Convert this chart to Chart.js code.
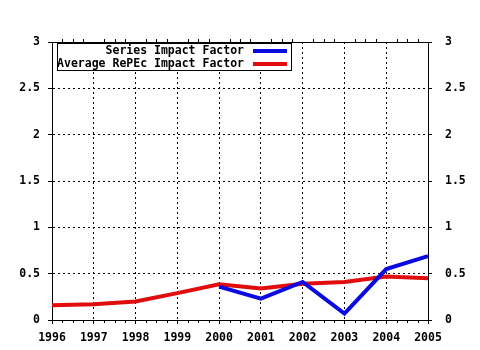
<!DOCTYPE html>
<html>
<head>
<meta charset="utf-8">
<script src="https://cdn.jsdelivr.net/npm/chart.js@4"></script>
<style>
    body { margin: 0; background: #fff; }
    #wrap { width: 480px; height: 350px; }
</style>
</head>
<body>
<div id="wrap"><canvas id="impactChart" width="480" height="350"></canvas></div>
<script>
// Chart data
const years = ['1996', '1997', '1998', '1999', '2000', '2001', '2002', '2003', '2004', '2005'];
const seriesImpact = [null, null, null, null, 0.36, 0.23, 0.41, 0.07, 0.55, 0.69];
const repecImpact = [0.16, 0.17, 0.20, 0.29, 0.385, 0.34, 0.39, 0.41, 0.47, 0.45];
const yTicks = [0, 0.5, 1, 1.5, 2, 2.5, 3];
const legendLabels = ['Series Impact Factor', 'Average RePEc Impact Factor'];

const BLUE = 'rgb(10, 10, 225)';
const RED = 'rgb(225, 12, 12)';
const FONT = { family: '"DejaVu Sans Mono", monospace', size: 11.5, weight: 'bold' };

// Top border, minor ticks and the legend box
const framePlugin = {
    id: 'frame',
    afterDraw(chart) {
        const ctx = chart.ctx;
        const area = chart.chartArea;
        const x = chart.scales.x;
        ctx.save();
        ctx.strokeStyle = '#000';
        ctx.lineWidth = 1;

        // solid top line
        ctx.beginPath();
        ctx.moveTo(area.left, area.top + 0.5);
        ctx.lineTo(area.right, area.top + 0.5);
        ctx.stroke();

        // minor ticks on bottom and top
        ctx.beginPath();
        for (let i = 0; i < years.length - 1; i++) {
            for (let k = 1; k < 4; k++) {
                const px = Math.round(x.getPixelForValue(i + k / 4)) + 0.5;
                ctx.moveTo(px, area.bottom);
                ctx.lineTo(px, area.bottom + 3);
                ctx.moveTo(px, area.top);
                ctx.lineTo(px, area.top - 3);
            }
        }
        ctx.stroke();

        // legend
        const box = { left: 57.5, top: 43.5, right: 291.5, bottom: 70.5 };
        ctx.fillStyle = '#fff';
        ctx.fillRect(box.left, box.top, box.right - box.left, box.bottom - box.top);
        ctx.strokeRect(box.left, box.top, box.right - box.left, box.bottom - box.top);

        ctx.font = 'bold 11.5px "DejaVu Sans Mono", monospace';
        ctx.textAlign = 'right';
        ctx.textBaseline = 'middle';
        ctx.fillStyle = '#000';
        const rows = [51, 64];
        const colors = [BLUE, RED];
        legendLabels.forEach((label, i) => {
            ctx.fillText(label, 244, rows[i]);
            ctx.strokeStyle = colors[i];
            ctx.lineWidth = 4;
            ctx.beginPath();
            ctx.moveTo(253, rows[i]);
            ctx.lineTo(287, rows[i]);
            ctx.stroke();
        });
        ctx.restore();
    }
};

const ctx = document.getElementById('impactChart').getContext('2d');

new Chart(ctx, {
    type: 'line',
    data: {
        labels: years,
        datasets: [
            {
                label: legendLabels[0],
                data: seriesImpact,
                borderColor: BLUE,
                borderWidth: 4,
                pointRadius: 0,
                tension: 0,
                spanGaps: false
            },
            {
                label: legendLabels[1],
                data: repecImpact,
                borderColor: RED,
                borderWidth: 4,
                pointRadius: 0,
                tension: 0
            }
        ]
    },
    options: {
        responsive: false,
        animation: false,
        layout: { padding: { top: 42, left: 0, right: 0, bottom: 0 } },
        plugins: {
            legend: { display: false },
            tooltip: { enabled: false }
        },
        scales: {
            x: {
                offset: false,
                afterFit: function(scale) { scale.height = 30; },
                grid: {
                    color: '#000',
                    tickLength: 4,
                    tickColor: '#000'
                },
                border: { display: true, color: '#000', width: 1, dash: [2, 3] },
                ticks: {
                    color: '#000',
                    font: FONT,
                    padding: 7,
                    maxRotation: 0,
                    autoSkip: false
                }
            },
            y: {
                position: 'left',
                min: 0,
                max: 3,
                afterFit: function(scale) { scale.width = 52; },
                afterBuildTicks: function(scale) { scale.ticks = yTicks.map(v => ({ value: v })); },
                grid: {
                    color: '#000',
                    tickLength: 4,
                    tickColor: '#000'
                },
                border: { display: true, color: '#000', width: 1, dash: [2, 3] },
                ticks: {
                    color: '#000',
                    font: FONT,
                    padding: 8,
                    callback: value => String(value)
                }
            },
            y2: {
                position: 'right',
                min: 0,
                max: 3,
                afterFit: function(scale) { scale.width = 52; },
                afterBuildTicks: function(scale) { scale.ticks = yTicks.map(v => ({ value: v })); },
                grid: {
                    drawOnChartArea: false,
                    tickLength: 4,
                    tickColor: '#000'
                },
                border: { display: true, color: '#000', width: 1 },
                ticks: {
                    color: '#000',
                    font: FONT,
                    padding: 13,
                    callback: value => String(value)
                }
            }
        }
    },
    plugins: [framePlugin]
});
</script>
</body>
</html>
